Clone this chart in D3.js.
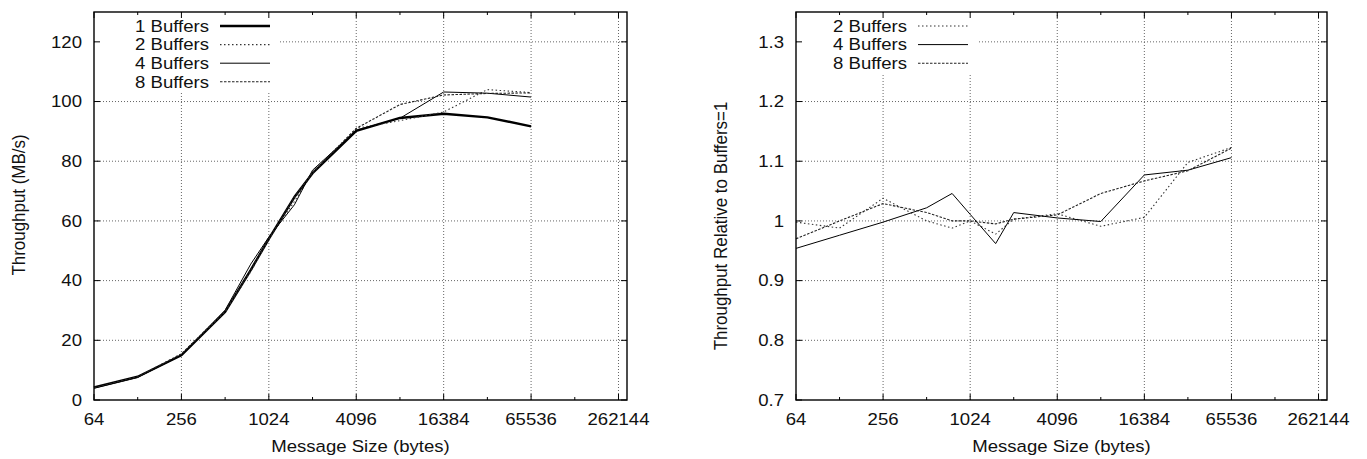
<!DOCTYPE html>
<html>
<head>
<meta charset="utf-8">
<script src="https://cdn.jsdelivr.net/npm/d3@7"></script>
<style>
body{margin:0;background:#fff}
text{font-family:"Liberation Sans",Arial,sans-serif;font-size:16.3px;fill:#111}
</style>
</head>
<body>
<div id="container"></div>
<script>
// message sizes (bytes)
var sizes = [64,128,256,512,768,1024,1536,2048,4096,8192,16384,32768,65536]
var xTicks = [64,256,1024,4096,16384,65536,262144]
var xMinor = [128,512,2048,8192,32768,131072]

// throughput MB/s
var buf1 = [4.2,7.8,15.0,29.5,43.5,54.0,68.0,76.0,90.2,94.5,95.9,94.7,91.7]
var buf2 = [4.2,7.7,15.5,29.5,43.0,54.0,66.5,76.2,91.0,93.6,96.5,104.0,103.0]
var buf4 = [4.0,7.6,15.0,30.1,45.5,54.6,65.4,77.0,90.4,94.4,103.2,102.8,101.5]
var buf8 = [4.1,7.8,15.4,29.8,43.5,54.0,68.0,76.2,91.0,99.0,102.2,102.7,102.9]

// relative to 1 buffer
var rel2 = [0.998,0.988,1.038,1.000,0.988,1.000,0.978,1.003,1.012,0.991,1.006,1.098,1.123]
var rel4 = [0.954,0.976,0.998,1.022,1.046,1.011,0.962,1.014,1.005,0.999,1.077,1.085,1.106]
var rel8 = [0.970,1.000,1.029,1.014,1.000,1.000,0.995,1.003,1.010,1.046,1.067,1.084,1.122]

var yTicksL = [0,20,40,60,80,100,120]
var yTicksR = [0.7,0.8,0.9,1,1.1,1.2,1.3]

var styles = {
  "1 Buffers":{w:2.4,dash:null,color:"#000"},
  "2 Buffers":{w:1.1,dash:"1.5,2.5",color:"#333"},
  "4 Buffers":{w:1,dash:null,color:"#000"},
  "8 Buffers":{w:1.1,dash:"2.5,1.5",color:"#222"}
}

var svg = d3.select("#container").append("svg").attr("width",1367).attr("height",459)

// text in the reference is a bit wider than plain Arial
function txt(g,x,y,anchor,str){
    return g.append("text").attr("transform","translate("+x+","+y+") scale(1.14,1)")
    .attr("text-anchor",anchor).attr("dy","0.36em").text(str)
}

function drawPanel(left,right,yDomain,yTicks,fmt,series,ytitle,titleY,legendRight,legendBox){
    var top = 12, bottom = 400
    var x = d3.scaleLog().base(2).domain([64,300000]).range([left,right])
    var y = d3.scaleLinear().domain(yDomain).range([bottom,top])
    var g = svg.append("g")

    // grid
    xTicks.slice(1).forEach(function(t){
        g.append("line").attr("x1",x(t)).attr("x2",x(t)).attr("y1",bottom).attr("y2",top)
        .attr("stroke","#666").attr("stroke-dasharray","1,2").attr("stroke-width",1)
    })
    yTicks.slice(1).forEach(function(t){
        g.append("line").attr("x1",left).attr("x2",right).attr("y1",y(t)).attr("y2",y(t))
        .attr("stroke","#666").attr("stroke-dasharray","1,2").attr("stroke-width",1)
    })

    // legend background hides grid
    g.append("rect").attr("x",left+1).attr("y",top+1).attr("width",legendBox[0]).attr("height",legendBox[1]).attr("fill","#fff")

    // ticks (mirrored)
    xTicks.forEach(function(t){
        g.append("line").attr("x1",x(t)).attr("x2",x(t)).attr("y1",bottom).attr("y2",bottom-6).attr("stroke","#000")
        g.append("line").attr("x1",x(t)).attr("x2",x(t)).attr("y1",top).attr("y2",top+6).attr("stroke","#000")
        txt(g,x(t),419,"middle",t)
    })
    xMinor.forEach(function(t){
        g.append("line").attr("x1",x(t)).attr("x2",x(t)).attr("y1",bottom).attr("y2",bottom-3).attr("stroke","#000")
        g.append("line").attr("x1",x(t)).attr("x2",x(t)).attr("y1",top).attr("y2",top+3).attr("stroke","#000")
    })
    yTicks.forEach(function(t){
        g.append("line").attr("x1",left).attr("x2",left+6).attr("y1",y(t)).attr("y2",y(t)).attr("stroke","#000")
        g.append("line").attr("x1",right).attr("x2",right-6).attr("y1",y(t)).attr("y2",y(t)).attr("stroke","#000")
        txt(g,left-12,y(t),"end",fmt(t))
    })

    // lines
    series.forEach(function(s){
        var st = styles[s.name]
        var pts = sizes.map(function(d,i){return [d,s.values[i]]})
        g.append("path")
        .attr("fill","none")
        .attr("stroke",st.color)
        .attr("stroke-width",st.w)
        .attr("stroke-dasharray",st.dash)
        .attr("stroke-linejoin","round")
        .attr("d",d3.line().x(function(d){return x(d[0])}).y(function(d){return y(d[1])})(pts))
    })

    // legend
    series.forEach(function(s,i){
        var st = styles[s.name]
        var ly = 26+i*18.6
        txt(g,legendRight,ly,"end",s.name)
        g.append("line").attr("x1",legendRight+11).attr("x2",legendRight+61).attr("y1",ly).attr("y2",ly)
        .attr("stroke",st.color).attr("stroke-width",st.w).attr("stroke-dasharray",st.dash)
    })

    // frame
    g.append("rect").attr("x",left).attr("y",top).attr("width",right-left).attr("height",bottom-top)
    .attr("fill","none").attr("stroke","#000").attr("stroke-width",1.4)

    // titles
    txt(g,(left+right)/2,446,"middle","Message Size (bytes)")
    g.append("text").attr("transform","translate("+(left-76)+","+titleY+") rotate(-90) scale(1.04,1.14)")
    .attr("text-anchor","middle").attr("dy","0.36em").text(ytitle)
}

drawPanel(94,627,[0,130],yTicksL,d3.format("d"),
    [{name:"1 Buffers",values:buf1},{name:"2 Buffers",values:buf2},{name:"4 Buffers",values:buf4},{name:"8 Buffers",values:buf8}],
    "Throughput (MB/s)",205,209,[184,80])

drawPanel(796,1327,[0.7,1.35],yTicksR,function(d){return d==1?"1":d3.format(".1f")(d)},
    [{name:"2 Buffers",values:rel2},{name:"4 Buffers",values:rel4},{name:"8 Buffers",values:rel8}],
    "Throughput Relative to Buffers=1",226,907,[180,60])
</script>
</body>
</html>
